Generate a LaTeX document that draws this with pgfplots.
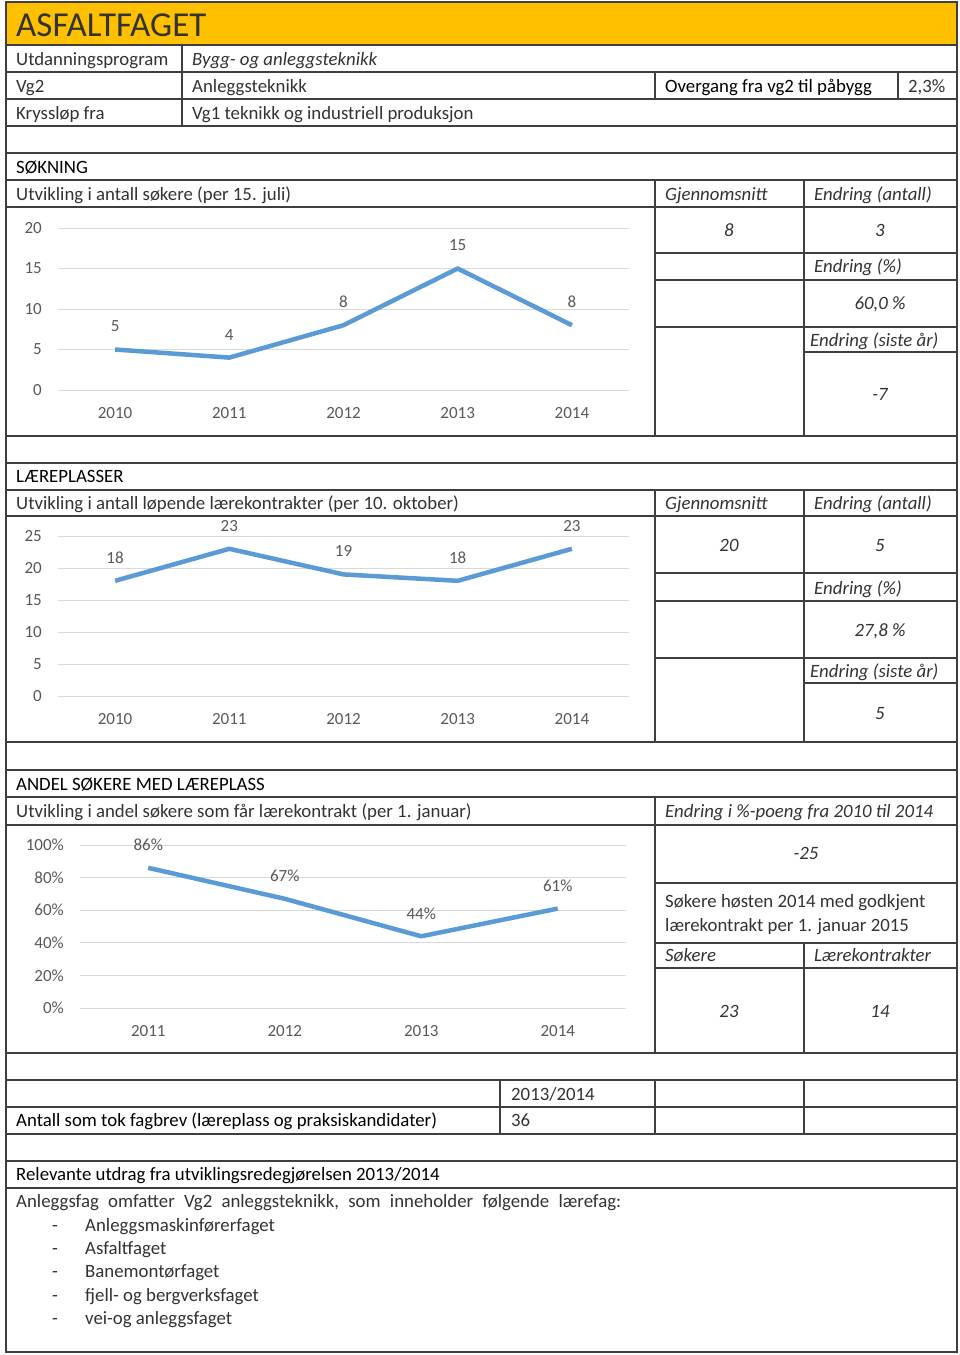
\documentclass[border=0pt]{standalone}
\usepackage{fontspec}
\setmainfont{Carlito}
\usepackage{pgfplots}
\pgfplotsset{compat=1.18}
\definecolor{band}{HTML}{FFC000}
\definecolor{serie}{HTML}{5B9BD5}
\definecolor{rule}{HTML}{3F3F3F}
\definecolor{tick}{HTML}{595959}
\definecolor{gridc}{HTML}{D9D9D9}
\definecolor{txt}{HTML}{333333}

\newcommand{\bodyfont}{\fontsize{18.8}{22}\selectfont}
\newcommand{\tickfont}{\fontsize{17}{19}\selectfont}
% text at (x, baseline) in page pixels
\newcommand{\T}[3]{\node[anchor=base west, inner sep=0pt, text=txt, font=\bodyfont] at (#1,#2) {#3};}
\newcommand{\TB}[3]{\node[anchor=base west, inner sep=0pt, text=black, font=\bodyfont] at (#1,#2) {#3};}
\newcommand{\TC}[3]{\node[anchor=base, inner sep=0pt, text=txt, font=\bodyfont\itshape] at (#1,#2) {#3};}

\pgfplotsset{
  chart/.style={
    scale only axis, clip=false,
    axis line style={draw=none}, tick style={draw=none},
    ymajorgrids, major grid style={draw=gridc, line width=1pt},
    /pgf/number format/assume math mode=true,
    ticklabel style={font=\tickfont, text=tick, inner sep=0pt},
    yticklabel style={anchor=east, xshift=-16pt},
    xticklabel style={anchor=center, yshift=-23pt},
    anchor=south west,
  },
  serie/.style={
    draw=serie, line width=4.5pt, line join=round, mark=none,
    nodes near coords, nodes near coords align={anchor=center},
    every node near coord/.style={anchor=center, yshift=23pt,
      font=\tickfont, text=tick, inner sep=0pt},
  },
}

\begin{document}
\begin{tikzpicture}
\path[fill=white] (0pt,0pt) rectangle (960pt,-1355pt);

\begin{scope}[x=1pt, y=-1pt]
  % yellow title band
  \fill[band] (6,2) rectangle (957,45);
  \node[anchor=base west, inner sep=0pt, font=\fontsize{35}{40}\selectfont, text=txt] at (16,36) {ASFALTFAGET};

  \begin{scope}[draw=rule, line width=1.2pt]
    \draw (6,2) rectangle (957,1352);
    \foreach \y in {45,72,99,126,153,180,207,436,463,490,516,742,770,797,825,1053,1080,1107,1134,1161,1188}
      \draw (6,\y) -- (957,\y);
    \foreach \y in {253,280,327,573,601,658,883,943,968}
      \draw (655,\y) -- (957,\y);
    \foreach \y in {352,683}
      \draw (804,\y) -- (957,\y);
    \draw (182,45) -- (182,126);
    \draw (655,72) -- (655,99);
    \draw (898,72) -- (898,99);
    \draw (655,180) -- (655,436);
    \draw (804,180) -- (804,436);
    \draw (655,490) -- (655,742);
    \draw (804,490) -- (804,742);
    \draw (655,797) -- (655,1053);
    \draw (804,943) -- (804,1053);
    \draw (500,1080) -- (500,1134);
    \draw (655,1080) -- (655,1134);
    \draw (804,1080) -- (804,1134);
  \end{scope}

  % header rows
  \T{16}{65}{Utdanningsprogram}
  \T{192}{65}{\itshape Bygg- og anleggsteknikk}
  \T{16}{92}{Vg2}
  \T{192}{92}{Anleggsteknikk}
  \TB{665}{92}{Overgang fra vg2 til påbygg}
  \T{908}{92}{2,3\%}
  \T{16}{119}{Kryssløp fra}
  \T{192}{119}{Vg1 teknikk og industriell produksjon}

  % SØKNING
  \TB{16}{173}{SØKNING}
  \T{16}{200}{Utvikling i antall søkere (per 15. juli)}
  \T{665}{200}{\itshape Gjennomsnitt}
  \T{814}{200}{\itshape Endring (antall)}
  \TC{729}{236}{8}
  \TC{880}{236}{3}
  \T{814}{272}{\itshape Endring (\%)}
  \TC{880}{309}{60,0 \%}
  \T{810}{346}{\itshape Endring (siste år)}
  \TC{880}{400}{-7}

  % LÆREPLASSER
  \TB{16}{482}{LÆREPLASSER}
  \T{16}{509}{Utvikling i antall løpende lærekontrakter (per 10. oktober)}
  \T{665}{509}{\itshape Gjennomsnitt}
  \T{814}{509}{\itshape Endring (antall)}
  \TC{729}{551}{20}
  \TC{880}{551}{5}
  \T{814}{594}{\itshape Endring (\%)}
  \TC{880}{636}{27,8 \%}
  \T{810}{677}{\itshape Endring (siste år)}
  \TC{880}{719}{5}

  % ANDEL SØKERE MED LÆREPLASS
  \TB{16}{790}{ANDEL SØKERE MED LÆREPLASS}
  \T{16}{817}{Utvikling i andel søkere som får lærekontrakt (per 1. januar)}
  \T{665}{817}{\itshape Endring i \%-poeng fra 2010 til 2014}
  \TC{806}{859}{-25}
  \T{665}{907}{Søkere høsten 2014 med godkjent}
  \T{665}{931}{lærekontrakt per 1. januar 2015}
  \T{665}{961}{\itshape Søkere}
  \T{814}{961}{\itshape Lærekontrakter}
  \TC{729}{1017}{23}
  \TC{880}{1017}{14}

  % fagbrev
  \T{511}{1100}{2013/2014}
  \TB{16}{1126}{Antall som tok fagbrev (læreplass og praksiskandidater)}
  \T{511}{1126}{36}

  % utdrag
  \TB{16}{1180}{Relevante utdrag fra utviklingsredegjørelsen 2013/2014}
  \T{16}{1207}{\hbox to 605pt{Anleggsfag\hfill omfatter\hfill Vg2\hfill anleggsteknikk,\hfill som\hfill inneholder\hfill følgende\hfill lærefag:}}
  \foreach \y/\s in {1231/Anleggsmaskinførerfaget, 1254/Asfaltfaget, 1277/Banemontørfaget,
                     1301/fjell- og bergverksfaget, 1324/vei-og anleggsfaget} {
    \T{52}{\y}{-}
    \T{85}{\y}{\s}
  }
\end{scope}

% chart 1: søkere
\begin{axis}[chart, at={(58pt,-390pt)}, width=571pt, height=162pt,
  xmin=-0.5, xmax=4.5, ymin=0, ymax=20, ytick={0,5,...,20},
  xtick={0,...,4}, xticklabels={2010,2011,2012,2013,2014}]
  \addplot[serie] coordinates {(0,5) (1,4) (2,8) (3,15) (4,8)};
\end{axis}

% chart 2: lærekontrakter
\begin{axis}[chart, at={(58pt,-696pt)}, width=571pt, height=160pt,
  xmin=-0.5, xmax=4.5, ymin=0, ymax=25, ytick={0,5,...,25},
  xtick={0,...,4}, xticklabels={2010,2011,2012,2013,2014}]
  \addplot[serie] coordinates {(0,18) (1,23) (2,19) (3,18) (4,23)};
\end{axis}

% chart 3: andel med læreplass
\begin{axis}[chart, at={(80pt,-1008pt)}, width=546pt, height=163pt,
  xmin=-0.5, xmax=3.5, ymin=0, ymax=100, ytick={0,20,...,100},
  yticklabels={0\%,20\%,40\%,60\%,80\%,100\%},
  xtick={0,...,3}, xticklabels={2011,2012,2013,2014}]
  \addplot[serie, nodes near coords={\pgfmathprintnumber{\pgfplotspointmeta}\%}]
    coordinates {(0,86) (1,67) (2,44) (3,61)};
\end{axis}
\end{tikzpicture}
\end{document}
